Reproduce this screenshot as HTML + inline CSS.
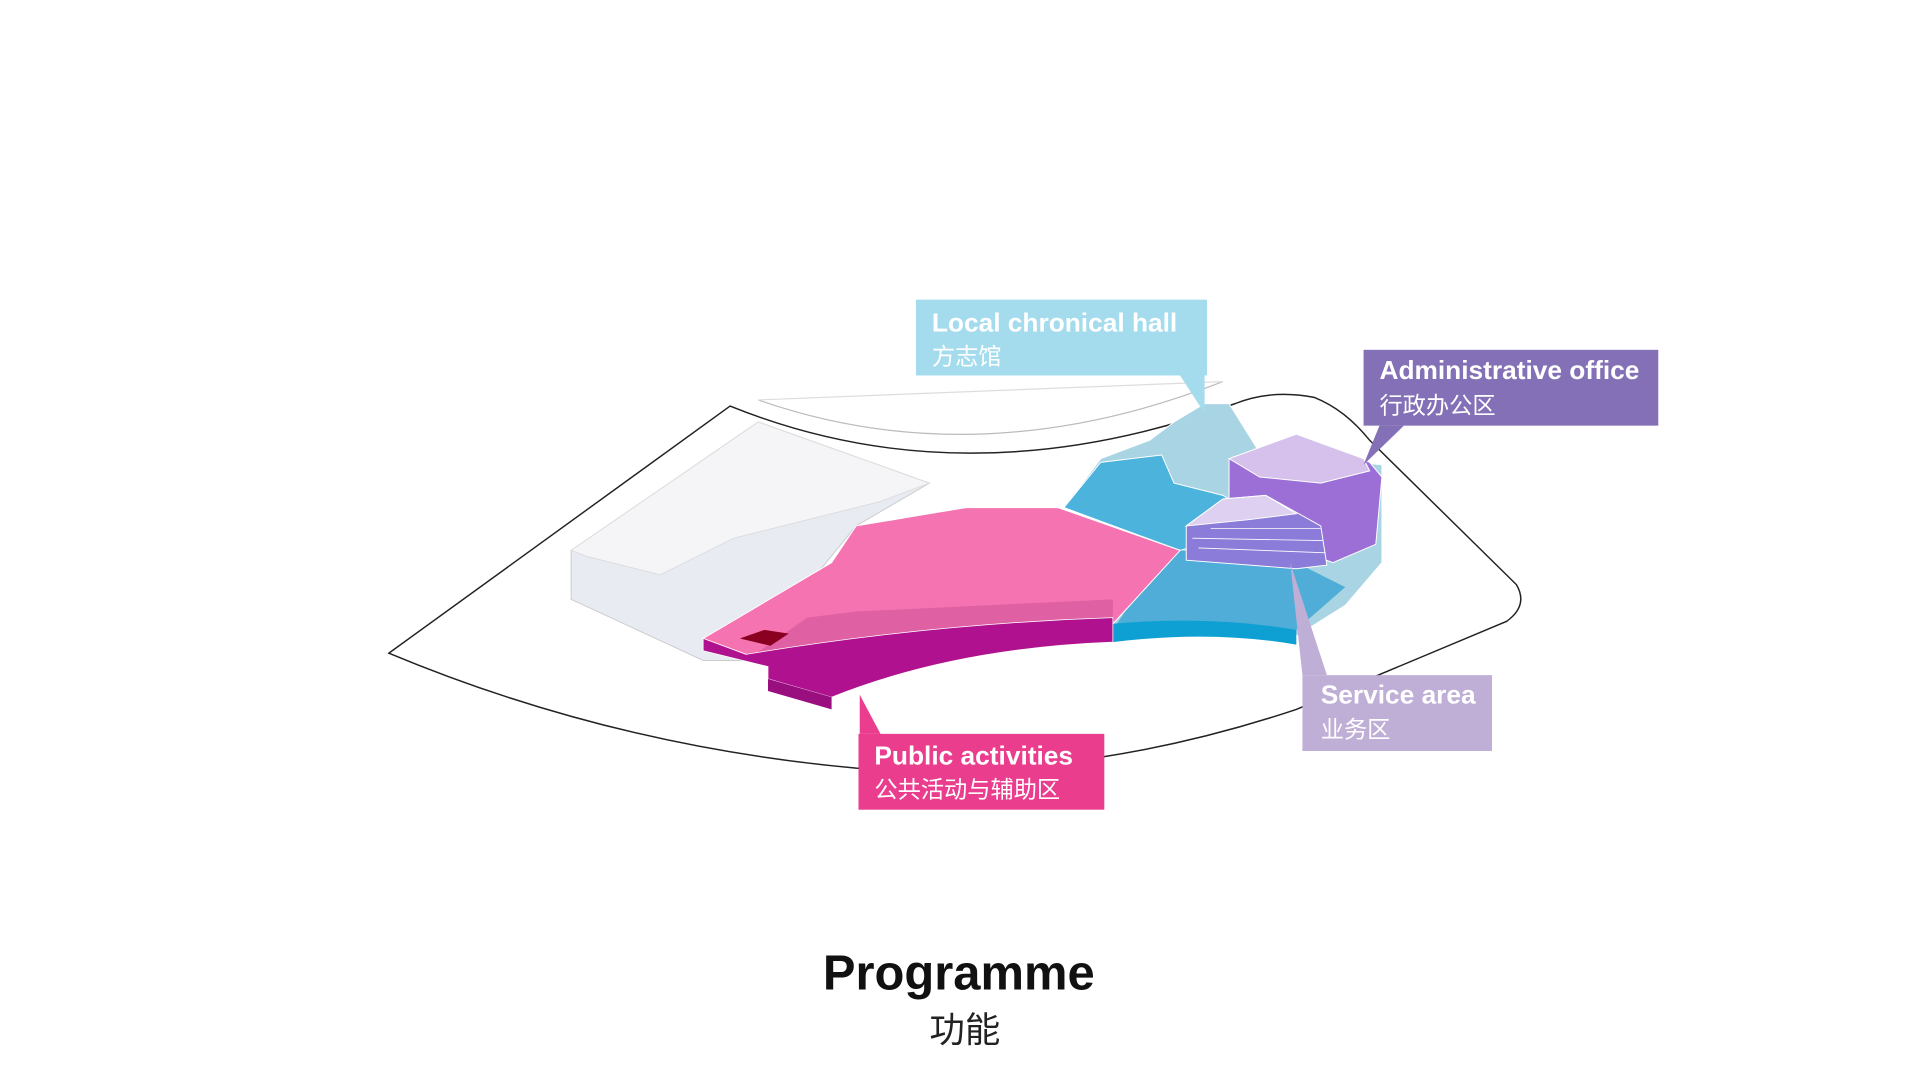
<!DOCTYPE html>
<html><head><meta charset="utf-8"><style>
html,body{margin:0;padding:0;background:#fff;width:1920px;height:1080px;overflow:hidden}
svg{display:block}
text{font-family:"Liberation Sans","Noto Sans CJK SC",sans-serif}
</style></head><body>
<svg width="1920" height="1080" viewBox="0 0 1570 883" preserveAspectRatio="none">
<path d="M620,327 Q800,390 1000,312" fill="none" stroke="#bbb" stroke-width="1"/>
<path d="M620,327 L1000,312" fill="none" stroke="#ddd" stroke-width="1"/>
<path d="M318,534 L597,332 Q790,410 1010,330 Q1040,318 1075,325 Q1100,335 1120,360 L1240,478 Q1250,495 1232,508 L1060,580 Q880,640 700,628 Q500,610 318,534 Z" fill="none" stroke="#222" stroke-width="1.2"/>
<polygon points="467,450 620,345 760,395 700,430 610,540 575,540 467,490" fill="#e9ebf2" stroke="#ccc" stroke-width="0.8"/>
<polygon points="467,450 620,345 760,395 720,410 600,440 540,470 480,455" fill="#f5f5f8" stroke="#ddd" stroke-width="0.8"/>
<polygon points="870,415 900,375 940,360 960,345 985,330 1005,330 1030,370 1130,380 1130,460 1100,495 1060,520 910,520 910,510 965,450" fill="#a8d4e4" stroke="#fff" stroke-width="0.8"/>
<polygon points="870,415 900,378 950,372 960,395 1000,405 1040,430 965,450" fill="#4cb3dc" stroke="#fff" stroke-width="0.8"/>
<polygon points="920,500 965,450 1060,460 1100,480 1060,515 910,515" fill="#3aa2d4" opacity="0.8"/>
<path d="M910,510 Q990,503 1060,515 L1060,527 Q990,515 910,525 Z" fill="#0ea0d2"/>
<polygon points="575,522 680,460 700,430 760,420 790,415 865,415 965,450 910,510 700,555 610,535" fill="#f573b0" stroke="#fff" stroke-width="0.8"/>
<polygon points="610,540 660,505 700,500 910,490 910,510 700,555" fill="#dd5fa2" opacity="0.9"/>
<path d="M575,522 L610,535 Q760,510 910,505 L910,525 Q780,530 680,570 L628,555 L628,545 L575,532 Z" fill="#b0118f" stroke="#fff" stroke-width="0.6"/>
<path d="M628,555 L680,570 L680,580 L628,565 Z" fill="#9a0f80"/>
<polygon points="605,522 625,515 645,518 630,528" fill="#8a0020"/>
<polygon points="1005,375 1060,355 1120,378 1130,390 1125,445 1090,460 1005,430" fill="#9b6fd6" stroke="#fff" stroke-width="0.8"/>
<polygon points="1005,375 1060,355 1115,375 1120,385 1080,395 1030,390" fill="#d6c1ec" stroke="#fff" stroke-width="0.8"/>
<polygon points="970,430 1000,408 1035,405 1080,430 1085,462 1060,465 970,458" fill="#8a7cd8" stroke="#fff" stroke-width="0.8"/>
<polygon points="970,430 1000,408 1035,405 1060,420 1020,425" fill="#ddd0f0" stroke="#fff" stroke-width="0.8"/>
<g stroke="#fff" stroke-width="0.7"><line x1="975" y1="440" x2="1082" y2="442"/><line x1="980" y1="448" x2="1084" y2="452"/><line x1="990" y1="432" x2="1080" y2="432"/></g>
<polygon points="965,307 985,307 985,338" fill="#a4dcee"/>
<rect x="749" y="245" width="238" height="62" fill="#a4dcee"/>
<text x="762" y="271" font-size="21.5" fill="#fff" font-weight="bold">Local chronical hall</text>
<text x="762" y="298" font-size="19" fill="#fff">方志馆</text>
<polygon points="1128,348 1148,348 1115,380" fill="#8370b6"/>
<rect x="1115" y="286" width="241" height="62" fill="#8370b6"/>
<text x="1128" y="310" font-size="21.5" fill="#fff" font-weight="bold">Administrative office</text>
<text x="1128" y="338" font-size="19" fill="#fff">行政办公区</text>
<polygon points="1055,460 1065,552 1085,552" fill="#bfaed6"/>
<rect x="1065" y="552" width="155" height="62" fill="#bfaed6"/>
<text x="1080" y="575" font-size="21.5" fill="#fff" font-weight="bold">Service area</text>
<text x="1080" y="603" font-size="19" fill="#fff">业务区</text>
<polygon points="703,568 703,600 720,600" fill="#ea3d8d"/>
<rect x="702" y="600" width="201" height="62" fill="#ea3d8d"/>
<text x="715" y="625" font-size="21.5" fill="#fff" font-weight="bold">Public activities</text>
<text x="715" y="652" font-size="19" fill="#fff">公共活动与辅助区</text>
<text x="784" y="809" font-size="40" font-weight="bold" fill="#111" text-anchor="middle">Programme</text>
<text x="789" y="852" font-size="29" fill="#222" text-anchor="middle">功能</text>
</svg>
</body></html>
